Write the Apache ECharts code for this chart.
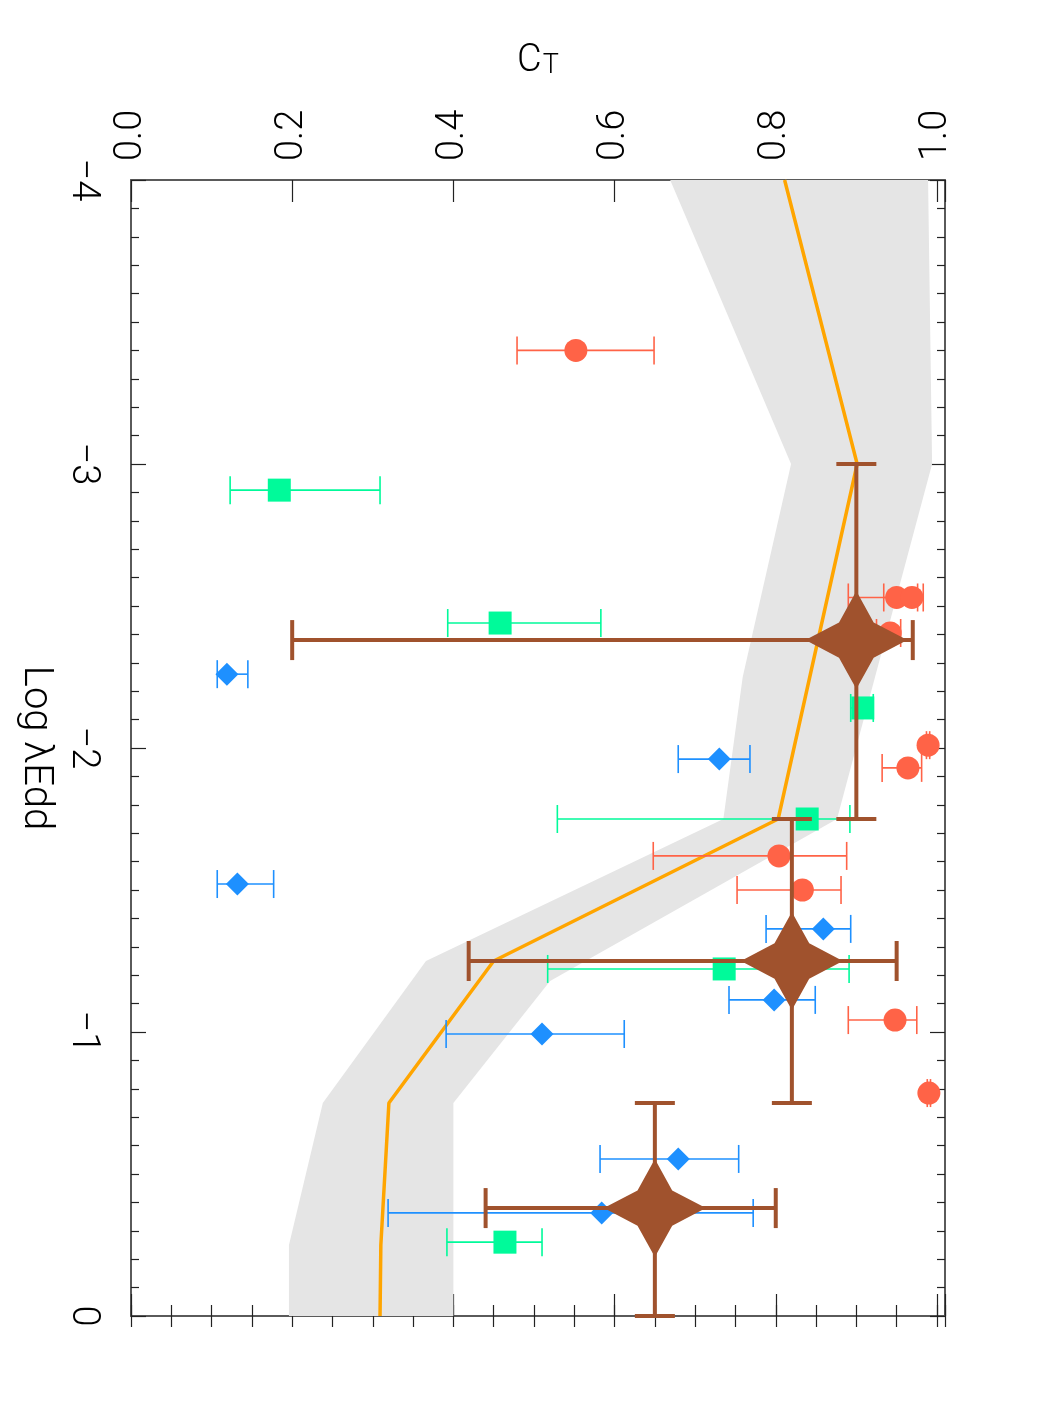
<!DOCTYPE html>
<html>
<head>
<meta charset="utf-8">
<script src="https://cdn.jsdelivr.net/npm/echarts@6/dist/echarts.min.js"></script>
<style>
  html, body { margin: 0; padding: 0; background: #fff; }
  #chart { width: 1050px; height: 1425px; }
</style>
</head>
<body>
<div id="chart"></div>
<script>
// tick labels
var ctTicks = [0, 0.2, 0.4, 0.6, 0.8, 1.0];
var ctLabels = ['0.0', '0.2', '0.4', '0.6', '0.8', '1.0'];
var lamTicks = [-4, -3, -2, -1, 0];
var lamLabels = ['\u22124', '\u22123', '\u22122', '\u22121', '0'];

// model curve (orange)
var modelLam = [-4, -3, -1.75, -1.25, -0.75, -0.25, 0];
var modelCt = [0.811, 0.901, 0.803, 0.450, 0.320, 0.310, 0.309];

// grey band, lower and upper edges
var bandLoLam = [-4, -3, -2.25, -1.75, -1.25, -0.75, -0.25, 0];
var bandLoCt = [0.669, 0.819, 0.759, 0.735, 0.366, 0.238, 0.196, 0.196];
var bandHiLam = [-4, -3, -1.75, -1.18, -0.75, 0];
var bandHiCt = [0.989, 0.994, 0.876, 0.520, 0.400, 0.400];

// red circles
var redLam = [-3.40, -2.53, -2.53, -2.405, -2.01, -1.93, -1.62, -1.50, -1.042, -0.785];
var redCt = [0.552, 0.950, 0.969, 0.942, 0.989, 0.964, 0.804, 0.833, 0.948, 0.990];
var redLo = [0.479, 0.890, 0.934, 0.925, 0.987, 0.932, 0.648, 0.752, 0.890, 0.988];
var redHi = [0.649, 0.976, 0.983, 0.955, 0.991, 0.981, 0.888, 0.881, 0.975, 0.992];

// green squares
var greenLam = [-2.908, -2.44, -2.141, -1.75, -1.222, -0.26];
var greenCt = [0.184, 0.458, 0.908, 0.839, 0.736, 0.464];
var greenLo = [0.123, 0.393, 0.893, 0.529, 0.517, 0.392];
var greenHi = [0.309, 0.583, 0.921, 0.892, 0.891, 0.510];

// blue diamonds
var blueLam = [-2.26, -1.961, -1.521, -1.363, -1.113, -0.993, -0.553, -0.363];
var blueCt = [0.119, 0.730, 0.132, 0.859, 0.798, 0.510, 0.679, 0.584];
var blueLo = [0.107, 0.679, 0.107, 0.788, 0.742, 0.391, 0.582, 0.319];
var blueHi = [0.145, 0.768, 0.177, 0.893, 0.849, 0.612, 0.754, 0.772];

// brown stars (binned averages)
var starLam = [-2.38, -1.25, -0.38];
var starLamLo = [-3.0, -1.75, -0.75];
var starLamHi = [-1.75, -0.75, 0.0];
var starCt = [0.900, 0.820, 0.650];
var starCtLo = [0.200, 0.419, 0.440];
var starCtHi = [0.970, 0.950, 0.800];

var FONT = 'Roboto, "DejaVu Sans", sans-serif';
var RED = '#ff6347', GREEN = '#00fa9a', BLUE = '#1e90ff', BROWN = '#a0522d';

function zip() {
    var arrs = arguments;
    return arrs[0].map(function (v, i) {
        var row = [];
        for (var k = 0; k < arrs.length; k++) row.push(arrs[k][i]);
        return row;
    });
}

function seg(a, b, style) {
    return {type: 'line', shape: {x1: a[0], y1: a[1], x2: b[0], y2: b[1]}, style: style};
}

// horizontal error bar: value = [ct, lam, lo, hi]
function hErr(color, width, cap) {
    return function (params, api) {
        var y = api.value(1);
        var p0 = api.coord([api.value(2), y]);
        var p1 = api.coord([api.value(3), y]);
        var st = {stroke: color, lineWidth: width};
        return {type: 'group', children: [
            seg(p0, p1, st),
            seg([p0[0], p0[1] - cap / 2], [p0[0], p0[1] + cap / 2], st),
            seg([p1[0], p1[1] - cap / 2], [p1[0], p1[1] + cap / 2], st)
        ]};
    };
}

// both directions: value = [ct, lam, ctLo, ctHi, lamLo, lamHi]
function xyErr(color, width, cap) {
    return function (params, api) {
        var x = api.value(0), y = api.value(1);
        var a = api.coord([api.value(2), y]);
        var b = api.coord([api.value(3), y]);
        var c = api.coord([x, api.value(4)]);
        var d = api.coord([x, api.value(5)]);
        var st = {stroke: color, lineWidth: width};
        return {type: 'group', children: [
            seg(a, b, st),
            seg([a[0], a[1] - cap / 2], [a[0], a[1] + cap / 2], st),
            seg([b[0], b[1] - cap / 2], [b[0], b[1] + cap / 2], st),
            seg(c, d, st),
            seg([c[0] - cap / 2, c[1]], [c[0] + cap / 2, c[1]], st),
            seg([d[0] - cap / 2, d[1]], [d[0] + cap / 2, d[1]], st)
        ]};
    };
}

function ctFormatter(v) {
    for (var i = 0; i < ctTicks.length; i++) {
        if (Math.abs(ctTicks[i] - v) < 1e-6) return ctLabels[i];
    }
    return '';
}
function lamFormatter(v) {
    var i = lamTicks.indexOf(v);
    return i >= 0 ? lamLabels[i] : '';
}

var frameLine = {show: true, onZero: false, lineStyle: {color: '#5a5a5a', width: 2}};
var tickStyle = {color: '#222', width: 1.2};

function xAxisDef(pos, interval, len, withLine) {
    return {
        type: 'value', position: pos, min: 0, max: 1.01, interval: interval,
        gridIndex: 0,
        axisLine: withLine ? frameLine : {show: false},
        axisTick: {show: true, inside: true, length: len, lineStyle: tickStyle},
        axisLabel: {show: false},
        splitLine: {show: false}
    };
}

var xTop = xAxisDef('top', 0.2, 22, true);
xTop.axisLabel = {
    show: true, rotate: -90, margin: 19, fontSize: 38, color: '#000',
    fontFamily: FONT, fontWeight: 300, formatter: ctFormatter
};
xTop.name = '{c|C}{s|T}';
xTop.nameLocation = 'middle';
xTop.nameGap = 100;
xTop.nameTextStyle = {
    rich: {
        c: {fontSize: 38, fontFamily: FONT, fontWeight: 300, color: '#000', lineHeight: 38, verticalAlign: 'top'},
        s: {fontSize: 27, fontFamily: FONT, fontWeight: 300, color: '#000', lineHeight: 27, padding: [22, 0, 0, 1], verticalAlign: 'bottom'}
    }
};
var xTopMinor = xAxisDef('top', 0.05, 11, false);
var xBottom = xAxisDef('bottom', 0.2, 22, true);
var xBottomMinor = xAxisDef('bottom', 0.05, 11, false);

function yAxisDef(pos) {
    return {
        type: 'value', position: pos, min: -4, max: 0, interval: 1, inverse: true,
        gridIndex: 0,
        axisLine: frameLine,
        axisTick: {show: true, inside: true, length: 15, lineStyle: tickStyle},
        minorTick: {show: true, splitNumber: 10, length: 8, lineStyle: tickStyle},
        axisLabel: {show: false},
        splitLine: {show: false},
        minorSplitLine: {show: false}
    };
}
var yLeft = yAxisDef('left');
yLeft.axisLabel = {
    show: true, rotate: -90, margin: 30, fontSize: 38, color: '#000',
    fontFamily: FONT, fontWeight: 300, formatter: lamFormatter
};
yLeft.name = 'Log \u03bbEdd';
yLeft.nameLocation = 'middle';
yLeft.nameRotate = -90;
yLeft.nameGap = 76;
yLeft.nameTextStyle = {fontSize: 40, fontFamily: FONT, fontWeight: 300, color: '#000'};
var yRight = yAxisDef('right');

var starPath = 'path://M50 0 L67 32 L100 50 L67 68 L50 100 L33 68 L0 50 L33 32 Z';

var option = {
    animation: false,
    backgroundColor: '#fff',
    grid: {left: 131, top: 180, width: 814, height: 1136, containLabel: false},
    xAxis: [xTop, xTopMinor, xBottom, xBottomMinor],
    yAxis: [yLeft, yRight],
    series: [
        {
            name: 'band', type: 'custom', z: 1, silent: true,
            data: [[0.5, -2]],
            encode: {x: 0, y: 1},
            renderItem: function (params, api) {
                if (params.dataIndex !== 0) return;
                var pts = [];
                for (var i = 0; i < bandLoLam.length; i++) {
                    pts.push(api.coord([bandLoCt[i], bandLoLam[i]]));
                }
                for (var j = bandHiLam.length - 1; j >= 0; j--) {
                    pts.push(api.coord([bandHiCt[j], bandHiLam[j]]));
                }
                return {type: 'polygon', shape: {points: pts}, style: {fill: '#e5e5e5'}};
            }
        },
        {
            name: 'model', type: 'line', z: 2,
            data: zip(modelCt, modelLam),
            showSymbol: false,
            lineStyle: {color: '#ffa500', width: 3.5}
        },
        {
            type: 'custom', z: 3, data: zip(redCt, redLam, redLo, redHi),
            encode: {x: [0, 2, 3], y: 1}, renderItem: hErr(RED, 1.6, 28)
        },
        {
            type: 'scatter', z: 3, data: zip(redCt, redLam),
            symbol: 'circle', symbolSize: 23, itemStyle: {color: RED, opacity: 1}
        },
        {
            type: 'custom', z: 3, data: zip(greenCt, greenLam, greenLo, greenHi),
            encode: {x: [0, 2, 3], y: 1}, renderItem: hErr(GREEN, 1.6, 28)
        },
        {
            type: 'scatter', z: 3, data: zip(greenCt, greenLam),
            symbol: 'rect', symbolSize: 23, itemStyle: {color: GREEN, opacity: 1}
        },
        {
            type: 'custom', z: 3, data: zip(blueCt, blueLam, blueLo, blueHi),
            encode: {x: [0, 2, 3], y: 1}, renderItem: hErr(BLUE, 1.6, 28)
        },
        {
            type: 'scatter', z: 3, data: zip(blueCt, blueLam),
            symbol: 'diamond', symbolSize: 23, itemStyle: {color: BLUE, opacity: 1}
        },
        {
            type: 'custom', z: 5, data: zip(starCt, starLam, starCtLo, starCtHi, starLamLo, starLamHi),
            encode: {x: [0, 2, 3], y: [1, 4, 5]}, renderItem: xyErr(BROWN, 4, 40)
        },
        {
            type: 'scatter', z: 5, data: zip(starCt, starLam),
            symbol: starPath, symbolSize: [102, 98], itemStyle: {color: BROWN, opacity: 1}
        }
    ]
};

echarts.init(document.getElementById('chart')).setOption(option);
</script>
</body>
</html>
